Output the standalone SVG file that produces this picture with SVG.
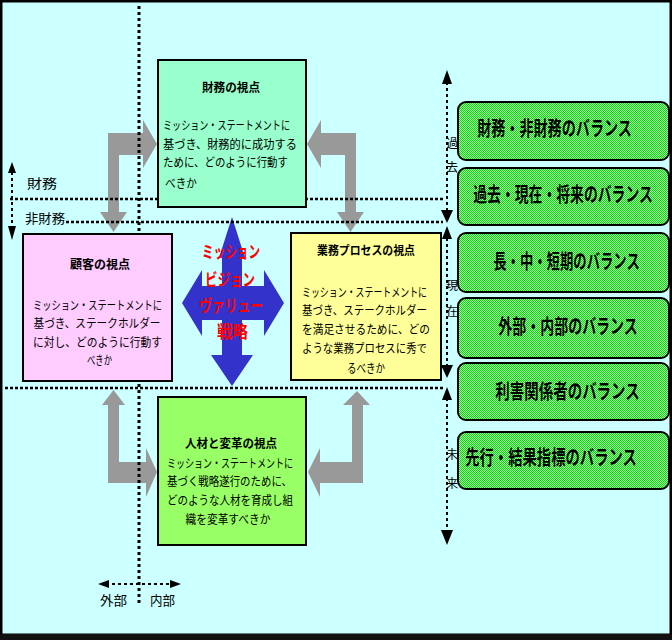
<svg xmlns="http://www.w3.org/2000/svg" width="672" height="640" viewBox="0 0 672 640">
<defs>
<style>
text{font-family:"Noto Sans CJK JP","Liberation Sans",sans-serif;fill:#000;}
.body{font-size:12px;}
.title{font-size:12px;font-weight:bold;}
.red{font-size:17px;font-weight:bold;fill:#FF0000;}
.bal{font-size:20px;font-weight:bold;}
.lab{font-size:13px;}
.vl{font-size:12px;}
.gray{fill:#999999;}
.dot{stroke:#000;stroke-width:2.5;stroke-dasharray:3 2;fill:none;}
.dotv{stroke:#000;stroke-width:3;stroke-dasharray:3 3;fill:none;}
.dash{stroke:#000;stroke-width:2;stroke-dasharray:3 3;fill:none;}
.box{stroke:#000;stroke-width:2;}
.gbox{fill:url(#chk);stroke:#000;stroke-width:2;}
</style>
<pattern id="chk" width="2" height="2" patternUnits="userSpaceOnUse">
<rect width="2" height="2" fill="#B3FFB3"/>
<rect width="1" height="1" fill="#00DD00"/>
<rect x="1" y="1" width="1" height="1" fill="#00DD00"/>
</pattern>
</defs>
<rect x="1" y="1" width="670" height="634" fill="#CCFFFF" stroke="#000" stroke-width="3"/>
<rect x="0" y="634" width="672" height="6" fill="#111"/>

<g id="connectors">
<path class="gray" d="M108,133 L143,133 L143,120 L157,144 L143,168 L143,155 L119,155 L119,212 L127,212 L113.5,232 L100,212 L108,212 Z"/>
<path class="gray" d="M356,133 L321,133 L321,120 L307,144 L321,168 L321,155 L345,155 L345,212 L337,212 L350.5,232 L364,212 L356,212 Z"/>
<path class="gray" d="M113.5,390 L125,405 L119,405 L119,462 L146,462 L146,448 L157,472 L146,497 L146,483 L108,483 L108,405 L102,405 Z"/>
<path class="gray" d="M357,391 L370,405 L363,405 L363,483 L320,483 L320,497 L308,472 L320,448 L320,462 L352,462 L352,405 L343,405 Z"/>
<polygon fill="#3333CC" points="232,217 245,258 242,258 242,286 264,286 264,270 284,303 264,336 264,320 242,320 242,355 253,355 232,386 211,355 222,355 222,320 202,320 202,336 182,303 202,270 202,286 222,286 222,258 219,258"/>
<line class="dotv" x1="139" y1="6" x2="139" y2="606"/>
<line class="dot" x1="10" y1="199" x2="443" y2="199"/>
<line class="dot" x1="66" y1="222" x2="443" y2="222"/>
<line class="dot" x1="5" y1="388" x2="443" y2="388"/>
<line class="dash" x1="12" y1="172" x2="12" y2="228"/>
<polygon points="12,162 16,173 8,173"/>
<polygon points="12,240 16,226 8,226"/>
<line class="dash" x1="447" y1="82" x2="447" y2="211"/>
<polygon points="447,70 452,84 442,84"/>
<polygon points="447,223 453,210 441,210"/>
<line class="dash" x1="447" y1="238" x2="447" y2="366"/>
<polygon points="447,226 452,239 442,239"/>
<polygon points="447,378 453,365 441,365"/>
<line class="dash" x1="447" y1="398" x2="447" y2="532"/>
<polygon points="447,387 452,400 442,400"/>
<polygon points="447,545 453,530 441,530"/>
<line class="dash" x1="106" y1="584" x2="172" y2="584"/>
<polygon points="98,584 109,580 109,588"/>
<polygon points="181,584 170,580 170,588"/>
</g>

<text class="lab" x="42" y="187.5" text-anchor="middle" textLength="30" lengthAdjust="spacingAndGlyphs">財務</text>
<text class="lab" x="45" y="222.5" text-anchor="middle" textLength="40" lengthAdjust="spacingAndGlyphs">非財務</text>
<text class="lab" x="113.5" y="604.5" text-anchor="middle" textLength="27" lengthAdjust="spacingAndGlyphs">外部</text>
<text class="lab" x="162.5" y="604.5" text-anchor="middle" textLength="25" lengthAdjust="spacingAndGlyphs">内部</text>
<text class="vl" x="446" y="148">過</text>
<text class="vl" x="446" y="172">去</text>
<text class="vl" x="446" y="290">現</text>
<text class="vl" x="446" y="316">在</text>
<text class="vl" x="446" y="459">未</text>
<text class="vl" x="446" y="488">来</text>

<g id="zaimu">
<rect class="box" x="158" y="60" width="148" height="147" fill="#99FFCC"/>
<text class="title" x="231" y="91.5" text-anchor="middle" textLength="58" lengthAdjust="spacingAndGlyphs">財務の視点</text>
<text class="body" x="163" y="130" textLength="127" lengthAdjust="spacingAndGlyphs">ミッション・ステートメントに</text>
<text class="body" x="163" y="149" textLength="134" lengthAdjust="spacingAndGlyphs">基づき、財務的に成功する</text>
<text class="body" x="163" y="167" textLength="125" lengthAdjust="spacingAndGlyphs">ために、どのように行動す</text>
<text class="body" x="165" y="188" textLength="32" lengthAdjust="spacingAndGlyphs">べきか</text>
</g>

<g id="kokyaku">
<rect class="box" x="23" y="234" width="149" height="147" fill="#FFCCFF"/>
<text class="title" x="100" y="268.5" text-anchor="middle" textLength="60" lengthAdjust="spacingAndGlyphs">顧客の視点</text>
<text class="body" x="97.5" y="309.5" text-anchor="middle" textLength="129" lengthAdjust="spacingAndGlyphs">ミッション・ステートメントに</text>
<text class="body" x="97" y="327.5" text-anchor="middle" textLength="127" lengthAdjust="spacingAndGlyphs">基づき、ステークホルダー</text>
<text class="body" x="97.5" y="346.5" text-anchor="middle" textLength="129" lengthAdjust="spacingAndGlyphs">に対し、どのように行動す</text>
<text class="body" x="99.5" y="364.5" text-anchor="middle" textLength="25" lengthAdjust="spacingAndGlyphs">べきか</text>
</g>

<g id="gyomu">
<rect class="box" x="291" y="233" width="150" height="147" fill="#FFFF99"/>
<text class="title" x="366" y="254.5" text-anchor="middle" textLength="98" lengthAdjust="spacingAndGlyphs">業務プロセスの視点</text>
<text class="body" x="364.5" y="296.5" text-anchor="middle" textLength="125" lengthAdjust="spacingAndGlyphs">ミッション・ステートメントに</text>
<text class="body" x="364.5" y="314.5" text-anchor="middle" textLength="125" lengthAdjust="spacingAndGlyphs">基づき、ステークホルダー</text>
<text class="body" x="366" y="333.5" text-anchor="middle" textLength="128" lengthAdjust="spacingAndGlyphs">を満足させるために、どの</text>
<text class="body" x="364.5" y="352.5" text-anchor="middle" textLength="125" lengthAdjust="spacingAndGlyphs">ような業務プロセスに秀で</text>
<text class="body" x="366" y="372.5" text-anchor="middle" textLength="38" lengthAdjust="spacingAndGlyphs">るべきか</text>
</g>

<g id="jinzai">
<rect class="box" x="158" y="397" width="148" height="148" fill="#99FF66"/>
<text class="title" x="231" y="447.5" text-anchor="middle" textLength="92" lengthAdjust="spacingAndGlyphs">人材と変革の視点</text>
<text class="body" x="230" y="467.5" text-anchor="middle" textLength="126" lengthAdjust="spacingAndGlyphs">ミッション・ステートメントに</text>
<text class="body" x="229.5" y="486" text-anchor="middle" textLength="125" lengthAdjust="spacingAndGlyphs">基づく戦略遂行のために、</text>
<text class="body" x="230" y="504.5" text-anchor="middle" textLength="126" lengthAdjust="spacingAndGlyphs">どのような人材を育成し組</text>
<text class="body" x="228" y="524" text-anchor="middle" textLength="85" lengthAdjust="spacingAndGlyphs">織を変革すべきか</text>
</g>

<g id="center">
<text class="red" x="231" y="258" text-anchor="middle" textLength="58" lengthAdjust="spacingAndGlyphs">ミッション</text>
<text class="red" x="230" y="286" text-anchor="middle" textLength="50" lengthAdjust="spacingAndGlyphs">ビジョン</text>
<text class="red" x="231" y="312" text-anchor="middle" textLength="64" lengthAdjust="spacingAndGlyphs">ヴァリュー</text>
<text class="red" x="232.5" y="338" text-anchor="middle" textLength="31" lengthAdjust="spacingAndGlyphs">戦略</text>
</g>

<g id="bal1"><rect class="gbox" x="458" y="102" width="211" height="58" rx="8"/>
<text class="bal" transform="translate(554.5,135.6) scale(0.705,1)" text-anchor="middle">財務・非財務のバランス</text></g>
<g id="bal2"><rect class="gbox" x="458" y="168" width="211" height="57" rx="8"/>
<text class="bal" transform="translate(563,201.6) scale(0.692,1)" text-anchor="middle">過去・現在・将来のバランス</text></g>
<g id="bal3"><rect class="gbox" x="458" y="233" width="211" height="59" rx="8"/>
<text class="bal" transform="translate(566.5,268.6) scale(0.668,1)" text-anchor="middle">長・中・短期のバランス</text></g>
<g id="bal4"><rect class="gbox" x="458" y="298" width="211" height="60" rx="8"/>
<text class="bal" transform="translate(568,333.6) scale(0.7,1)" text-anchor="middle">外部・内部のバランス</text></g>
<g id="bal5"><rect class="gbox" x="458" y="363" width="211" height="57" rx="8"/>
<text class="bal" transform="translate(567.5,398.6) scale(0.725,1)" text-anchor="middle">利害関係者のバランス</text></g>
<g id="bal6"><rect class="gbox" x="458" y="432" width="211" height="57" rx="8"/>
<text class="bal" transform="translate(551,464.6) scale(0.717,1)" text-anchor="middle">先行・結果指標のバランス</text></g>
</svg>
